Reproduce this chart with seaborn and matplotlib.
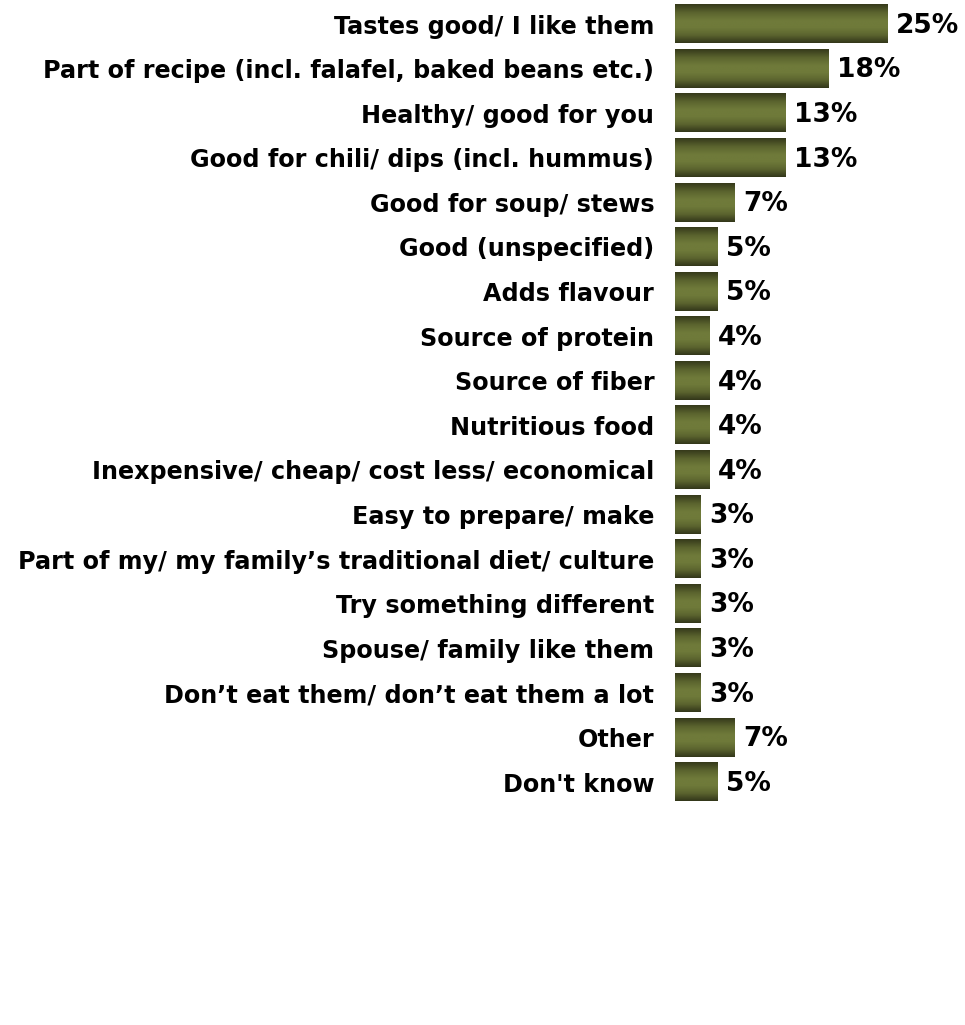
import numpy as np
import pandas as pd
import matplotlib
matplotlib.use("Agg")
import matplotlib.pyplot as plt
from matplotlib.colors import LinearSegmentedColormap
import seaborn as sns

sns.set_theme(style="white")
# the source text is wide and heavy, DejaVu bold gives the closest footprint
plt.rcParams['font.family'] = ['DejaVu Sans']

### DATA
reasons = [
    "Tastes good/ I like them",
    "Part of recipe (incl. falafel, baked beans etc.)",
    "Healthy/ good for you",
    "Good for chili/ dips (incl. hummus)",
    "Good for soup/ stews",
    "Good (unspecified)",
    "Adds flavour",
    "Source of protein",
    "Source of fiber",
    "Nutritious food",
    "Inexpensive/ cheap/ cost less/ economical",
    "Easy to prepare/ make",
    "Part of my/ my family\u2019s traditional diet/ culture",
    "Try something different",
    "Spouse/ family like them",
    "Don\u2019t eat them/ don\u2019t eat them a lot",
    "Other",
    "Don't know",
]
shares = [25, 18, 13, 13, 7, 5, 5, 4, 4, 4, 4, 3, 3, 3, 3, 3, 7, 5]

df = pd.DataFrame({"reason": reasons, "share": shares})

### PLOT
fig = plt.figure(figsize=(9.65, 10.25), dpi=100)
ax = fig.add_axes([0.6995, 0.2153, 0.2645, 0.7830])

sns.barplot(data=df, x="share", y="reason", orient="h", color="#6b7436",
            width=0.86, ax=ax, saturation=1)

# vertical gradient on each bar: dark edges, lighter olive centre
grad = LinearSegmentedColormap.from_list(
    "olive", [(0.0, "#363a1b"), (0.22, "#5c652f"), (0.42, "#6f7a3a"),
              (0.6, "#6f7a3a"), (0.8, "#5c652f"), (1.0, "#33371a")])
g = np.linspace(0, 1, 64).reshape(-1, 1)
for p in ax.patches:
    x0, y0 = p.get_x(), p.get_y()
    w, h = p.get_width(), p.get_height()
    ax.imshow(g, cmap=grad, aspect="auto", extent=(x0, x0 + w, y0 + h, y0),
              zorder=3, interpolation="bilinear")
    p.set_visible(False)
    ax.text(x0 + w + 1.0, y0 + h / 2 + 0.04, f"{int(w)}%", va="center", ha="left",
            fontsize=19, fontweight="bold", color="black")

ax.set_xlim(0, 30)
ax.set_ylim(17.5, -0.5)
ax.set_xlabel("")
ax.set_ylabel("")
ax.set_xticks([])
ax.tick_params(axis="y", length=0, pad=15)
for lbl in ax.get_yticklabels():
    lbl.set_fontsize(17.2)
    lbl.set_fontweight("bold")
    lbl.set_color("black")
for s in ax.spines.values():
    s.set_visible(False)

fig.savefig("out.png", dpi=100)
